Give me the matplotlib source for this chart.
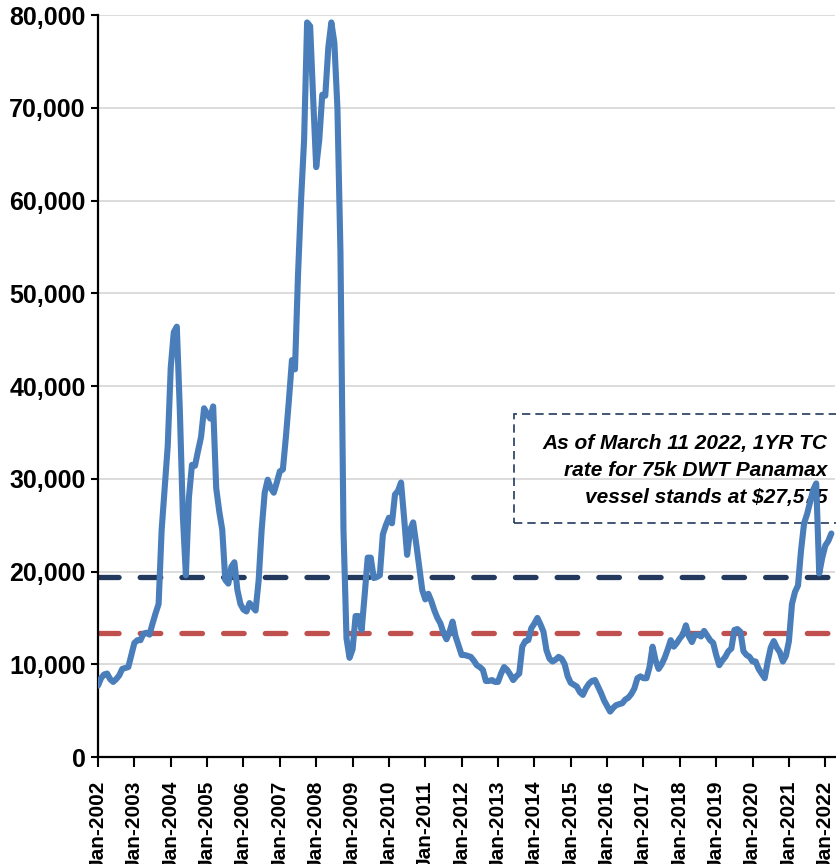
import matplotlib.pyplot as plt
from matplotlib.patches import Rectangle
from matplotlib.ticker import FuncFormatter

plt.rcParams['font.family'] = ['Liberation Sans', 'DejaVu Sans']

# 1YR TC rate, 75k DWT Panamax, monthly from Jan-2002 to Mar-2022 (USD/day)
tc_rate = [
    7700, 8500, 8900, 9000, 8400, 8100, 8400, 8800, 9500, 9600, 9700, 11000,
    12300, 12600, 12600, 13300, 13400, 13200, 14400, 15500, 16500, 24500, 29000, 33500,
    42000, 45800, 46400, 37400, 26000, 19600, 28000, 31500, 31400, 33000, 34500, 37600,
    37000, 36500, 37800, 29000, 26500, 24500, 19100, 18700, 20500, 21000, 18000, 16500,
    15900, 15700, 16600, 16200, 15800, 19000, 24500, 28500, 29900, 29000, 28500, 29600,
    30800, 31000, 34500, 38500, 42800, 41800, 52000, 60000, 66500, 79200, 78800, 71000,
    63600, 66500, 71400, 71300, 76500, 79200, 77000, 70000, 54500, 24500, 12800, 10700,
    11600, 15200, 15200, 13700, 17500, 21500, 21500, 19300, 19400, 19600, 24000, 25000,
    25800, 25200, 28300, 28700, 29600, 25800, 21800, 24500, 25300, 23000, 20500, 18000,
    17000, 17600, 16800, 15800, 15000, 14400, 13400, 12700, 13500, 14600, 13000, 12000,
    11000, 11000, 10900, 10800, 10400, 9900, 9700, 9400, 8200, 8200, 8300, 8100,
    8100, 9000, 9700, 9400, 8900, 8300, 8700, 9000, 11900, 12500, 12600, 13900,
    14400, 15000, 14300, 13500, 11500, 10600, 10300, 10500, 10800, 10600, 10000, 8700,
    8000, 7800, 7600, 7000, 6700, 7400, 7900, 8200, 8300, 7600, 6900, 6100,
    5500, 4900, 5300, 5600, 5700, 5800, 6200, 6400, 6800, 7400, 8500, 8700,
    8500, 8500, 9700, 11900, 10400, 9500, 10000, 10700, 11600, 12600, 11900, 12300,
    12800, 13200, 14200, 13000, 12400, 13200, 13200, 13000, 13600, 13100, 12600, 12300,
    11000, 9900, 10400, 10800, 11400, 11700, 13700, 13800, 13500, 11400, 11000, 10800,
    10300, 10300, 9500, 9000, 8500, 10300, 11800, 12500, 11800, 11300, 10300, 10900,
    12500, 16500, 17800, 18500, 22300, 25200, 26200, 27500, 28800, 29500, 19800, 21500,
    22800, 23300, 24100,
]
avg_high = 19450   # navy dashed line
avg_low = 13350    # red dashed line
years = list(range(2002, 2023))
tick_labels = [f"Jan-{y}" for y in years]
note = "As of March 11 2022, 1YR TC\nrate for 75k DWT Panamax\nvessel stands at $27,575"

fig = plt.figure(figsize=(8.37, 8.64), dpi=100)
ax = fig.add_axes([0.1171, 0.1238, 0.8805, 0.8588])

x = list(range(len(tc_rate)))

ax.axhline(avg_high, color='#233A5E', lw=3.8, linestyle=(0, (3.9, 4.0)),
           dash_capstyle='round', zorder=2)
ax.axhline(avg_low, color='#C0504D', lw=3.8, linestyle=(0, (3.9, 4.0)),
           dash_capstyle='round', zorder=2)
ax.plot(x, tc_rate, color='#4A7EBB', lw=4.4, solid_joinstyle='round',
        solid_capstyle='round', zorder=3)

ax.set_xlim(0, 243.2)
ax.set_ylim(0, 80000)
ax.set_yticks(range(0, 80001, 10000))
ax.yaxis.set_major_formatter(FuncFormatter(lambda v, p: f"{int(v):,}"))
ax.set_xticks([12 * i for i in range(len(years))])
ax.set_xticklabels(tick_labels, rotation=90, fontweight='bold', fontsize=15)
for lab in ax.get_yticklabels():
    lab.set_fontweight('bold')
    lab.set_fontsize(18)

ax.grid(axis='y', color='#D9D9D9', lw=1.3, zorder=0)
ax.set_axisbelow(True)
for s in ['top', 'right']:
    ax.spines[s].set_visible(False)
for s in ['left', 'bottom']:
    ax.spines[s].set_linewidth(1.6)
ax.tick_params(axis='y', length=5, width=1.5, pad=4)
ax.tick_params(axis='x', length=7, width=1.5, pad=10)

# note box, runs off the right edge like the original
box = Rectangle((137.2, 25230), 120, 11770, fill=False, edgecolor='#233A5E',
                lw=1.2, linestyle=(0, (5, 3)), clip_on=False, zorder=1)
ax.add_patch(box)
ax.text(240.7, 30900, note, ha='right', va='center', multialignment='right',
        fontsize=15, fontweight='bold', fontstyle='italic', linespacing=1.53,
        zorder=2)

fig.savefig('out.png', dpi=100)
